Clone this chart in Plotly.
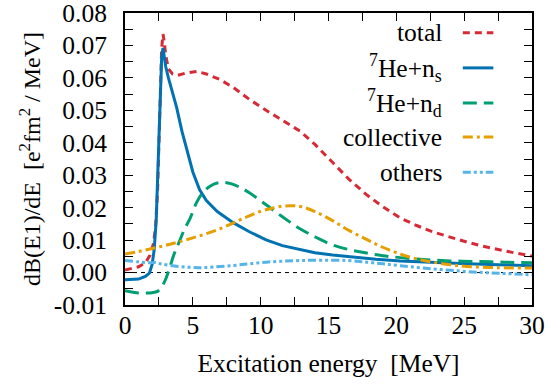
import plotly.graph_objects as go

# ---------------- data ----------------
E_total = [0, 0.5, 1.0, 1.5, 1.85, 2.1, 2.25, 2.4, 2.5, 2.6, 2.7, 2.8, 2.9, 3.0, 3.2, 3.5, 3.9,
           4.5, 5.3, 6.0, 7.0, 8.0, 9.2, 10.4, 11.6, 12.9, 14.0, 15.3, 16.5, 17.8, 19.0, 20.3,
           21.5, 22.7, 24.0, 25.2, 26.4, 27.6, 28.8, 30]
v_total = [0.0008, 0.0012, 0.0018, 0.003, 0.0054, 0.009, 0.014, 0.025, 0.038, 0.055, 0.069,
           0.0735, 0.071, 0.067, 0.0628, 0.0612, 0.0608, 0.0615, 0.062, 0.0612, 0.0595, 0.057,
           0.0533, 0.0500, 0.0468, 0.0436, 0.0395, 0.0338, 0.0288, 0.0240, 0.0203, 0.0168,
           0.0145, 0.0125, 0.0108, 0.0094, 0.0081, 0.0070, 0.0060, 0.0051]

E_s = [0, 0.5, 1.0, 1.5, 1.8, 2.0, 2.15, 2.3, 2.4, 2.5, 2.6, 2.7, 2.8, 2.9, 3.0, 3.2, 3.45,
       3.8, 4.2, 4.6, 5.0, 5.5, 6.0, 6.8, 8.0, 9.2, 10.4, 11.6, 12.9, 14.0, 15.3, 17.0, 18.5,
       20.3, 22.5, 25.2, 27.5, 30]
v_s = [-0.0022, -0.0022, -0.002, -0.0012, -0.0002, 0.0025, 0.007, 0.016, 0.028, 0.042, 0.056,
       0.066, 0.0692, 0.0665, 0.0635, 0.060, 0.0565, 0.051, 0.0435, 0.037, 0.031, 0.0255,
       0.0222, 0.0188, 0.0153, 0.0125, 0.0101, 0.0083, 0.0070, 0.0061, 0.0054, 0.0046,
       0.0041, 0.0036, 0.0031, 0.0027, 0.0024, 0.0021]

E_d = [0, 0.5, 1.0, 1.5, 2.0, 2.4, 2.7, 3.0, 3.3, 3.6, 4.0, 4.4, 4.8, 5.3, 5.8, 6.3, 6.8, 7.3,
       7.8, 8.5, 9.2, 10.4, 11.6, 12.9, 14.1, 15.3, 16.5, 17.8, 19.0, 20.3, 22.0, 24.0, 26.0,
       28.0, 30]
v_d = [-0.0056, -0.006, -0.0063, -0.0063, -0.0062, -0.0058, -0.0045, -0.002, 0.0015, 0.0055,
       0.0095, 0.0135, 0.0167, 0.0218, 0.0250, 0.0267, 0.0276, 0.0278, 0.0274, 0.0262, 0.0245,
       0.0209, 0.0172, 0.0135, 0.0108, 0.0085, 0.0071, 0.0060, 0.0052, 0.0046, 0.0040,
       0.0036, 0.0034, 0.0032, 0.0030]

E_c = [0, 1, 2, 3, 4, 5, 6, 7, 8, 9, 10, 11, 11.7, 12.4, 13.0, 14.0, 15.3, 16.5, 17.8, 19.0,
       20.3, 21.5, 22.7, 24.0, 25.2, 27.5, 30]
v_c = [0.0057, 0.0065, 0.0074, 0.0084, 0.0095, 0.0107, 0.0120, 0.0135, 0.0153, 0.0172, 0.0189,
       0.0200, 0.0205, 0.0206, 0.0203, 0.0188, 0.0160, 0.0130, 0.0102, 0.0078, 0.0057, 0.0042,
       0.0032, 0.0024, 0.0019, 0.0015, 0.0014]

E_o = [0, 1, 1.8, 2.2, 2.6, 3.3, 4.5, 5.5, 6.5, 8, 9.2, 10.4, 11.6, 12.9, 14.5, 16.4, 17.8, 19,
       20.3, 22, 24, 26, 28, 30]
v_o = [0.0037, 0.0033, 0.0030, 0.0031, 0.0027, 0.0022, 0.0017, 0.0015, 0.0017, 0.0022, 0.0027,
       0.0032, 0.0035, 0.0037, 0.0038, 0.0037, 0.0032, 0.0027, 0.0021, 0.0014, 0.0007, 0.0001,
       -0.0003, -0.0007]

labels = ["total", "<sup>7</sup>He+n<sub>s</sub>", "<sup>7</sup>He+n<sub>d</sub>",
          "collective", "others"]
y_ticks = [-0.01, 0.0, 0.01, 0.02, 0.03, 0.04, 0.05, 0.06, 0.07, 0.08]
y_ticktext = ["-0.01", "0.00", "0.01", "0.02", "0.03", "0.04", "0.05", "0.06", "0.07", "0.08"]
x_ticks = [0, 5, 10, 15, 20, 25, 30]

# ---------------- styles ----------------
colors = ["#d62a35", "#0072b2", "#009e73", "#e69f00", "#56b4e9"]
dashes = ["7px,5px", "solid", "14px,7px", "10px,4px,3px,4px", "8px,3px,3px,3px,3px,3px"]
shapes_l = ["linear", "linear", "spline", "spline", "spline"]
series = [(E_total, v_total), (E_s, v_s), (E_d, v_d), (E_c, v_c), (E_o, v_o)]

FONT = "Liberation Serif, Times New Roman, serif"
FS = 25.5

fig = go.Figure()
for (x, y), c, d, sh, name in zip(series, colors, dashes, shapes_l, labels):
    fig.add_trace(go.Scatter(x=x, y=y, mode="lines", name=name, showlegend=False,
                             line=dict(color=c, width=3, dash=d, shape=sh)))

# zero line
fig.add_shape(type="line", xref="paper", yref="y", x0=0, x1=1, y0=0, y1=0,
              line=dict(color="black", width=1, dash="4px,4px"), layer="below")

# manual legend (text right-aligned, sample on the right)
leg_y = [0.932, 0.812, 0.692, 0.575, 0.455]
for lab, c, d, yy in zip(labels, colors, dashes, leg_y):
    fig.add_annotation(x=0.785, y=yy, xref="paper", yref="paper", text=lab, showarrow=False,
                       xanchor="right", yanchor="middle", font=dict(family=FONT, size=FS, color="black"))
    fig.add_shape(type="line", xref="paper", yref="paper", x0=0.83, x1=0.905, y0=yy, y1=yy,
                  line=dict(color=c, width=3, dash=d))

axis_common = dict(showline=True, linecolor="black", linewidth=2, mirror="allticks",
                   ticks="inside", ticklen=8, tickwidth=1, tickcolor="black",
                   showgrid=False, zeroline=False, automargin=False, ticklabeloverflow="allow",
                   tickfont=dict(family=FONT, size=FS, color="black"))

fig.update_xaxes(range=[0, 30], tickvals=x_ticks, ticklabelstandoff=-4,
                 minor=dict(dtick=2.5, ticks="inside", ticklen=8, tickcolor="black", showgrid=False),
                 title=dict(text="Excitation energy&nbsp; [MeV]", font=dict(family=FONT, size=FS, color="black"),
                            standoff=16),
                 **axis_common)
fig.update_yaxes(range=[-0.01, 0.08], tickvals=y_ticks, ticktext=y_ticktext, ticklabelstandoff=11,
                 minor=dict(dtick=0.005, ticks="inside", ticklen=8, tickcolor="black", showgrid=False),
                 title=dict(text="dB(E1)/dE  [e<sup>2</sup>fm<sup>2</sup> / MeV]",
                            font=dict(family=FONT, size=24, color="black"), standoff=6),
                 **axis_common)

fig.update_layout(width=549, height=388, margin=dict(l=125, r=17, t=13, b=83),
                  plot_bgcolor="white", paper_bgcolor="white",
                  font=dict(family=FONT, size=FS, color="black"))

fig.write_html("out.html", config={"displayModeBar": False, "staticPlot": True},
               post_script="document.body.style.margin='0px';")
